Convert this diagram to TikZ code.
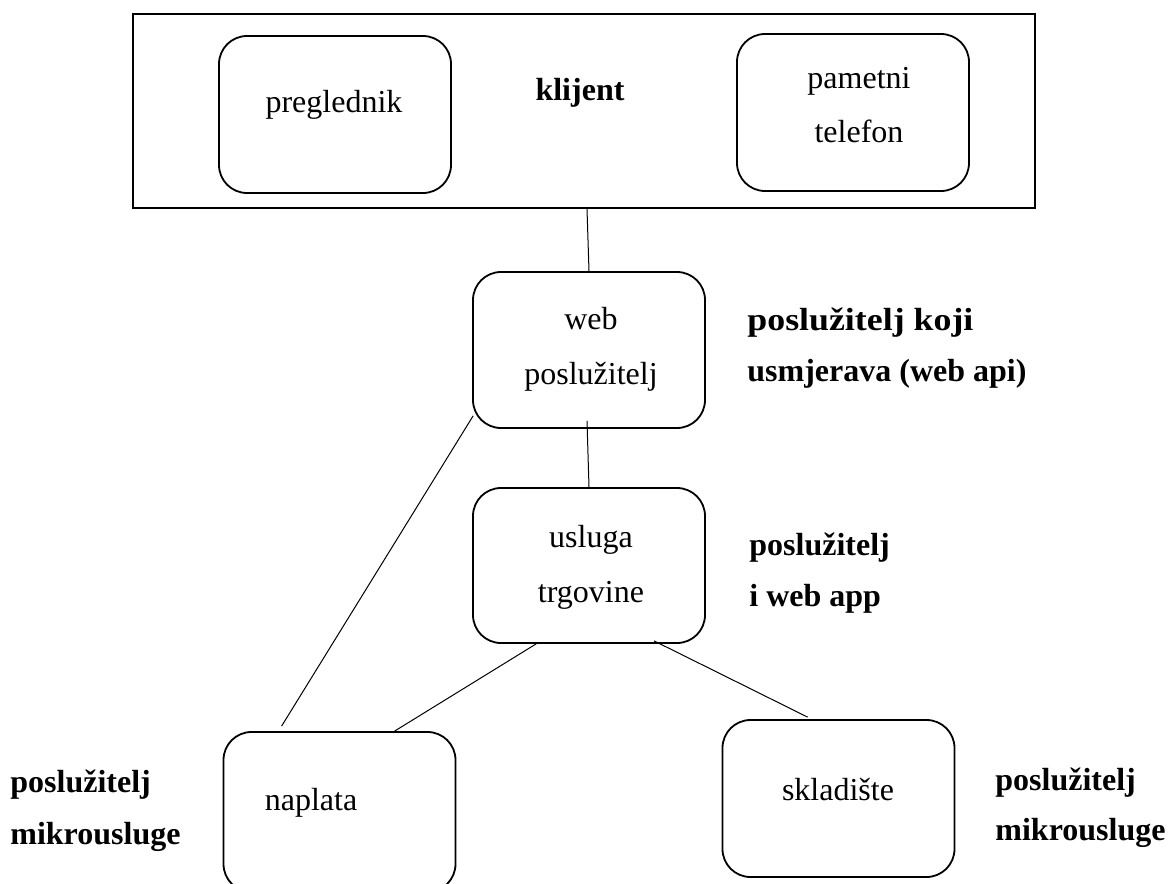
\documentclass[tikz,border=0pt]{standalone}
\usepackage{fontspec}
\setmainfont{Liberation Serif}
\usetikzlibrary{calc}
\begin{document}
\begin{tikzpicture}[x=0.5pt,y=-0.5pt,
  box/.style={draw, line width=0.9pt, rounded corners=14pt, inner sep=0pt, minimum width=116pt},
  frame/.style={draw, line width=1pt, inner sep=0pt},
  txt/.style={font=\fontsize{16}{20}\selectfont, inner sep=0pt, anchor=base},
  lbl/.style={font=\fontsize{16}{20}\selectfont\bfseries, inner sep=0pt, anchor=base west},
  conn/.style={line width=0.5pt}]
\useasboundingbox (0,0) rectangle (1168,884);
\clip (0,0) rectangle (1168,884);
% boxes
\node[frame, minimum width=451pt, minimum height=97pt] (client) at (584,111) {};
\node[box, minimum height=78.5pt] (pregl) at (335,114.5) {};
\node[box, minimum height=78.5pt] (phone) at (853,112.5) {};
\node[box, minimum height=78pt] (web) at (589,350) {};
\node[box, minimum height=77.5pt] (shop) at (589,565.5) {};
\node[box, minimum height=80pt] (bill) at (339.5,812) {};
\node[box, minimum height=78.5pt] (store) at (838.5,798.5) {};
% texts
\node[txt] (tpregl) at (334,112) {preglednik};
\node[txt, font=\fontsize{16}{20}\selectfont\bfseries] (tclient) at (580,100) {klijent};
\node[txt] (tphone1) at (859,88) {pametni};
\node[txt] (tphone2) at (859,142) {telefon};
\node[txt] (tweb1) at (591,329) {web};
\node[txt] (tweb2) at (591,384) {poslužitelj};
\node[txt] (tshop1) at (591,547) {usluga};
\node[txt] (tshop2) at (591,602) {trgovine};
\node[txt] (tbill) at (311,810) {naplata};
\node[txt] (tstore) at (838,800) {skladište};
% labels
\node[lbl] (l1a) at (747,330) {\scalebox{1.12}[1]{poslužitelj koji}};
\node[lbl] (l1b) at (747,381) {usmjerava (web api)};
\node[lbl] (l2a) at (749,555) {poslužitelj};
\node[lbl] (l2b) at (749,606) {i web app};
\node[lbl] (l3a) at (10,792) {poslužitelj};
\node[lbl] (l3b) at (10,844) {mikrousluge};
\node[lbl] (l4a) at (995,790) {poslužitelj};
\node[lbl] (l4b) at (995,840) {mikrousluge};
% connectors
\draw[conn] ($(client.south)+(3,0)$) -- (web.north);
\draw[conn] ($(web.south)+(-2,-8)$) -- (shop.north);
\draw[conn] ($(web.south west)+(1,-13)$) -- ($(bill.north west)+(59,-5)$);
\draw[conn] ($(shop.south west)+(64,0)$) -- ($(bill.north west)+(172,0)$);
\draw[conn] ($(shop.south west)+(182,-3)$) -- ($(store.north west)+(86,-2)$);
\end{tikzpicture}
\end{document}
